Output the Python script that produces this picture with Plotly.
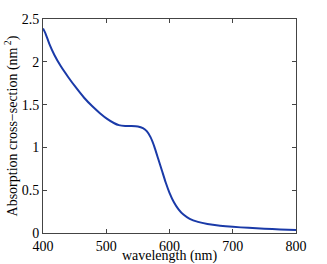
import plotly.graph_objects as go

wavelength = [400, 404, 410, 418, 428, 440, 452, 465, 478, 490, 502, 512, 520, 530, 540, 550, 558, 564, 570, 576, 582, 588, 594, 600, 607, 614, 622, 632, 645, 660, 680, 700, 725, 750, 775, 800]
cross_section = [2.39, 2.33, 2.21, 2.08, 1.95, 1.82, 1.70, 1.58, 1.48, 1.40, 1.33, 1.285, 1.26, 1.25, 1.25, 1.245, 1.225, 1.19, 1.12, 1.01, 0.87, 0.73, 0.59, 0.47, 0.36, 0.28, 0.215, 0.165, 0.13, 0.105, 0.085, 0.072, 0.06, 0.05, 0.042, 0.035]

x_ticks = [400, 500, 600, 700, 800]
y_ticks = [0, 0.5, 1, 1.5, 2, 2.5]
y_tick_labels = ["0", "0.5", "1", "1.5", "2", "2.5"]

serif = "Liberation Serif"

fig = go.Figure()
fig.add_trace(go.Scatter(
    x=wavelength, y=cross_section, mode="lines",
    line=dict(color="#1a3aa8", width=2, shape="spline", smoothing=0.6),
    showlegend=False,
))

axis_common = dict(
    showgrid=False, zeroline=False, showline=True, linecolor="#444",
    linewidth=1, mirror="ticks", ticks="inside", ticklen=4, tickcolor="#444",
    tickfont=dict(family=serif, size=14, color="black"), automargin=False,
)

fig.update_layout(
    width=327, height=264,
    margin=dict(l=43, r=31, t=19, b=31),
    paper_bgcolor="white", plot_bgcolor="white",
    font=dict(family=serif, size=14, color="black"),
    xaxis=dict(range=[400, 800], tickvals=x_ticks,
               title=dict(text="wavelength (nm)", standoff=3,
                          font=dict(family=serif, size=14, color="black")),
               **axis_common),
    yaxis=dict(range=[0, 2.5], tickvals=y_ticks, ticktext=y_tick_labels,
               title=dict(text="Absorption cross\u2212section (nm<sup> 2</sup>)", standoff=0,
                          font=dict(family=serif, size=14, color="black")),
               **axis_common),
)

fig.write_html("out.html", config={"displayModeBar": False},
               post_script="document.body.style.margin='0';document.body.style.padding='0';")
